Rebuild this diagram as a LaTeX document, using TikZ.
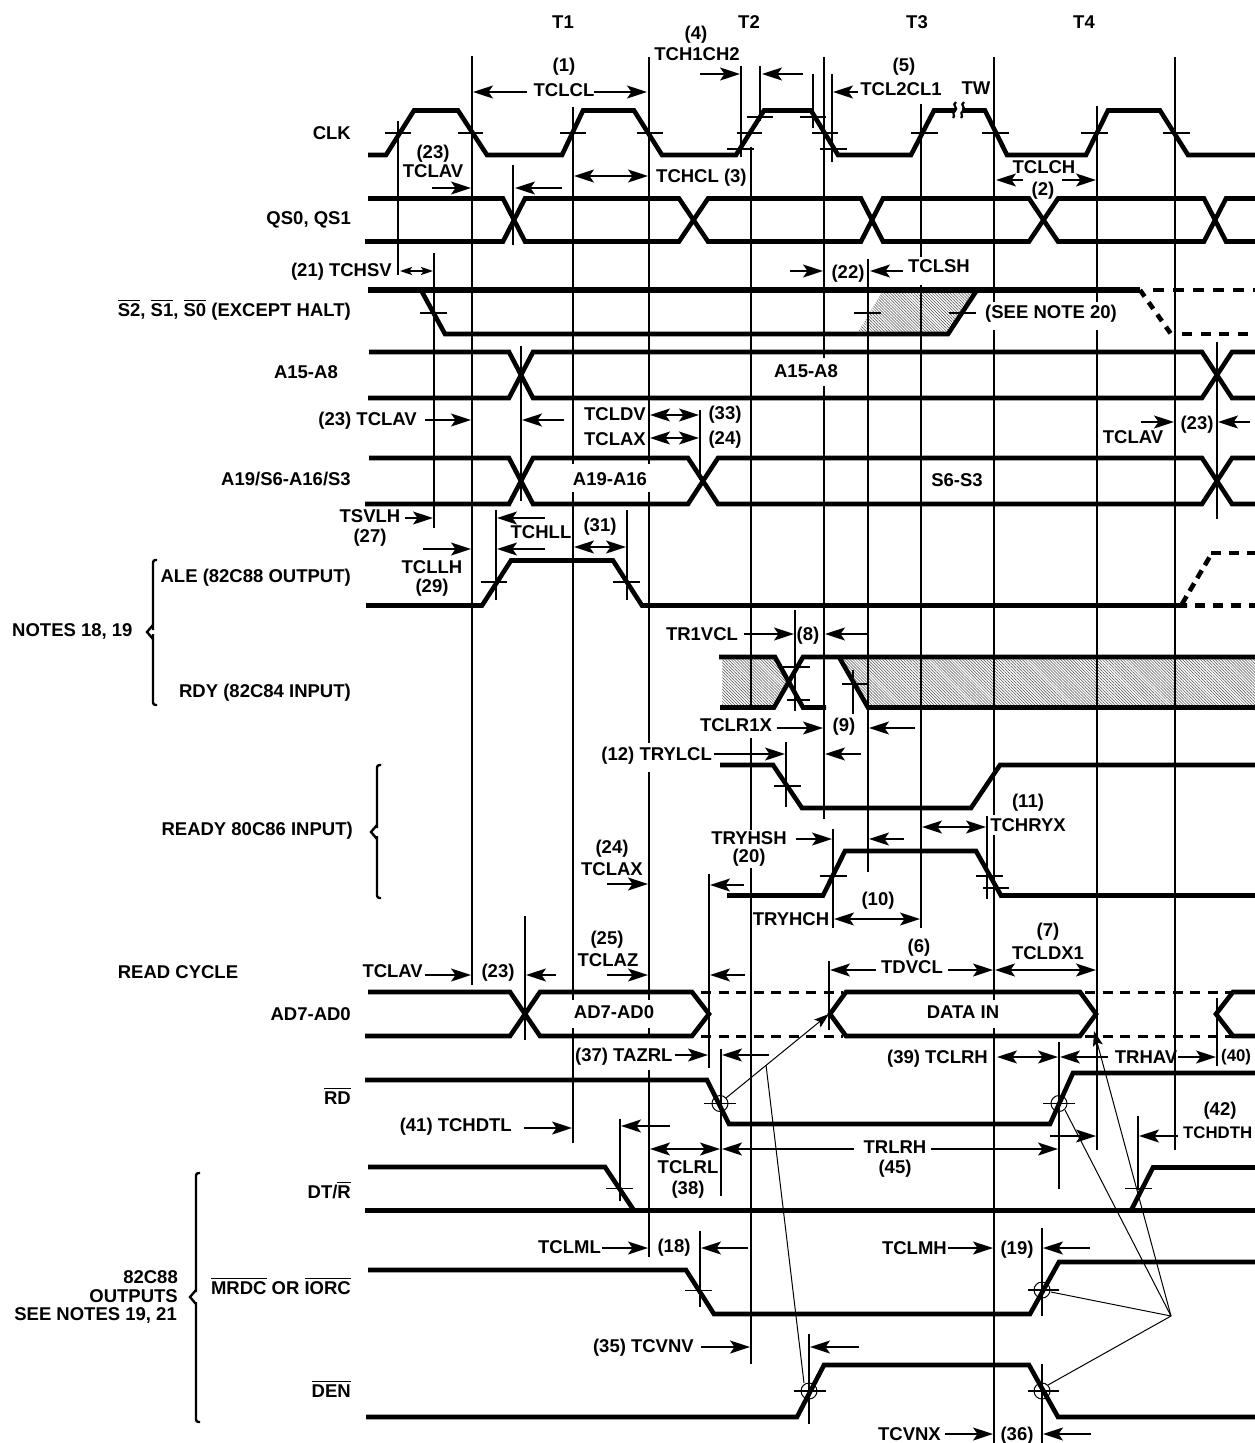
\documentclass[tikz,border=0pt]{standalone}
\usepackage{fontspec}
\setmainfont{Liberation Sans}[BoldFont={Liberation Sans Bold}]
\usetikzlibrary{arrows.meta,patterns.meta}
\newcommand{\ovl}[1]{\leavevmode\setbox0\hbox{#1}\rlap{\raisebox{16pt}{\rule{\wd0}{1pt}}}\box0 }
\tikzset{
  txt/.style={inner sep=0pt,font=\fontsize{18.5}{20}\selectfont\bfseries},
  txtsm/.style={inner sep=0pt,font=\fontsize{16.8}{20}\selectfont\bfseries},
  sig/.style={line width=4.6pt,line join=miter},
  sigd/.style={line width=4.6pt,dash pattern=on 10.5pt off 9.5pt},
  adash/.style={line width=3pt,dash pattern=on 10pt off 7.5pt},
  vl/.style={line width=1.8pt},
  tk/.style={line width=1.8pt},
  hd/.style={-{Stealth[length=20pt,width=13pt,inset=4.5pt]},line width=1.7pt},
  hdb/.style={{Stealth[length=20pt,width=13pt,inset=4.5pt]}-{Stealth[length=20pt,width=13pt,inset=4.5pt]},line width=1.7pt},
  hds/.style={{Stealth[length=12pt,width=8pt,inset=2.5pt]}-{Stealth[length=12pt,width=8pt,inset=2.5pt]},line width=1.7pt},
  leader/.style={line width=1pt},
  leadh/.style={line width=1pt,-{Stealth[length=15pt,width=10pt,inset=3pt]}},
  hatch/.style={pattern={Lines[angle=-45,distance=2.1pt,line width=.5pt]},pattern color=black!70},
  br/.style={line width=2.4pt,rounded corners=2.5pt},
}
\newcommand{\txc}[3]{\node[txt,anchor=base] at (#1,{#2+6.6}) {#3};}
\newcommand{\txr}[3]{\node[txt,anchor=base east] at (#1,{#2+6.6}) {#3};}
\newcommand{\txl}[3]{\node[txt,anchor=base west] at (#1,{#2+6.6}) {#3};}
\newcommand{\hk}[3]{\draw[tk] (#1,#3) -- (#2,#3);}
\begin{document}
\begin{tikzpicture}[x=1pt,y=-1pt]
\useasboundingbox (0,0) rectangle (1255,1443);
\fill[white] (0,0) rectangle (1255,1443);
% hatching
\fill[hatch] (857,334) -- (882,292) -- (977,292) -- (948,334) -- cycle;
\fill[hatch] (722,657) -- (775,657) -- (789,682) -- (774,707.5) -- (722,707.5) -- cycle;
\fill[hatch] (839,657) -- (1255,657) -- (1255,707.5) -- (868,707.5) -- cycle;
% long vertical lines
\draw[vl] (398,121) -- (398,275);
\draw[vl] (472,56) -- (472,985);
\draw[vl] (573,107) -- (573,464) (573,492) -- (573,1000) (573,1028) -- (573,1143);
\draw[vl] (649,57) -- (649,464) (649,492) -- (649,743) (649,772) -- (649,1000) (649,1028) -- (649,1035) (649,1070) -- (649,1257);
\draw[vl] (751,147) -- (751,710) (751,738) -- (751,830) (751,868) -- (751,1364);
\draw[vl] (824,57) -- (824,358) (824,386) -- (824,819);
\draw[vl] (921,104) -- (921,257) (921,285) -- (921,928);
\draw[vl] (994,57) -- (994,302) (994,330) -- (994,815) (994,835) -- (994,1000) (994,1028) -- (994,1443);
\draw[vl] (1097,106) -- (1097,302) (1097,330) -- (1097,1150);
\draw[vl] (1175,57) -- (1175,1150);
\draw[vl] (868,259) -- (868,872);
\draw[vl] (434,253) -- (434,528);
% short ticks
\draw[vl] (741,66) -- (741,157);
\draw[vl] (760,66) -- (760,121);
\draw[vl] (813,74) -- (813,128);
\draw[vl] (832,74) -- (832,162);
\draw[vl] (513,165) -- (513,245);
\draw[vl] (521,346) -- (521,501);
\draw[vl] (496,510) -- (496,600);
\draw[vl] (627,510) -- (627,600);
\draw[vl] (700,410) -- (700,480);
\draw[vl] (795,610) -- (795,711);
\draw[vl] (853,670) -- (853,714);
\draw[vl] (786,742) -- (786,807);
\draw[vl] (833,829) -- (833,928);
\draw[vl] (987,816) -- (987,899);
\draw[vl] (709,874) -- (709,1068);
\draw[vl] (721,1049) -- (721,1196);
\draw[vl] (829,961) -- (829,1030);
\draw[vl] (525,916) -- (525,1040);
\draw[vl] (620,1119) -- (620,1201);
\draw[vl] (1059,1042) -- (1059,1189);
\draw[vl] (1138,1116) -- (1138,1190);
\draw[vl] (1217,998) -- (1217,1066);
\draw[vl] (700,1231) -- (700,1307);
\draw[vl] (1042,1228) -- (1042,1316);
\draw[vl] (809,1334) -- (809,1424);
\draw[vl] (1042,1364) -- (1042,1443);
\draw[vl] (1217,342) -- (1217,519);
% CLK
\draw[sig] (368,155) -- (386,155) -- (414,110.5) -- (458,110.5) -- (487,155) -- (562,155) -- (583,110.5) -- (634,110.5) -- (662,155) -- (736,155) -- (764,110.5) -- (811,110.5) -- (838,155) -- (911,155) -- (934,110.5) -- (985,110.5) -- (1007,155) -- (1086,155) -- (1108,110.5) -- (1160,110.5) -- (1188,155) -- (1255,155);
\fill[white] (955,106) rectangle (962,115);
\draw[line width=2.2pt] (956,102) .. controls (951,105) and (959,108) .. (955,111) .. controls (951,113) and (956,116) .. (953,118);
\draw[line width=2.2pt] (964,102) .. controls (959,105) and (967,108) .. (963,111) .. controls (959,113) and (964,116) .. (961,118);
\hk{385}{411}{133}\hk{458}{483}{133}\hk{560}{586}{133}\hk{637}{663}{133}\hk{737}{762}{133}
\hk{747}{773}{117}\hk{800}{826}{117}\hk{812}{838}{133}\hk{727}{754}{149}\hk{820}{847}{149}
\hk{911}{938}{133}\hk{982}{1009}{133}\hk{1081}{1108}{133}\hk{1163}{1190}{133}
% QS
\draw[sig] (368,198.5) -- (503,198.5) -- (525,241.5) -- (679,241.5) -- (708,198.5) -- (861,198.5) -- (883,241.5) -- (1029,241.5) -- (1058,198.5) -- (1204,198.5) -- (1226,241.5) -- (1255,241.5);
\draw[sig] (365,241.5) -- (503,241.5) -- (525,198.5) -- (679,198.5) -- (708,241.5) -- (861,241.5) -- (883,198.5) -- (1029,198.5) -- (1058,241.5) -- (1204,241.5) -- (1226,198.5) -- (1255,198.5);
% S2 S1 S0
\draw[line width=5.2pt] (368,290) -- (1140,290);
\draw[sigd] (1153,290) -- (1255,290);
\draw[sig] (421,290) -- (445,334) -- (948,334) -- (977,290);
\draw[line width=4.6pt,dash pattern=on 8pt off 7pt] (1140,290) -- (1171,334);
\draw[line width=4.6pt,dash pattern=on 10pt off 8.5pt] (1182,334) -- (1255,334);
\hk{420}{447}{313}\hk{854}{881}{313}\hk{949}{976}{313}
% A15-A8
\draw[sig] (369,352) -- (509,352) -- (533,398) -- (1202,398) -- (1232,352) -- (1255,352);
\draw[sig] (368,398) -- (509,398) -- (533,352) -- (1202,352) -- (1232,398) -- (1255,398);
% A19
\draw[sig] (369,458) -- (509,458) -- (533,504) -- (688,504) -- (718,458) -- (1202,458) -- (1232,504) -- (1255,504);
\draw[sig] (365,504) -- (509,504) -- (533,458) -- (688,458) -- (718,504) -- (1202,504) -- (1232,458) -- (1255,458);
% ALE
\draw[sig] (366,605.5) -- (482,605.5) -- (511,560.5) -- (613,560.5) -- (642,605.5) -- (1187,605.5);
\draw[line width=4.6pt,dash pattern=on 9pt off 6pt] (1182,604) -- (1212,553);
\draw[line width=4.6pt,dash pattern=on 10pt off 8pt] (1211,553) -- (1255,553);
\draw[line width=4.6pt,dash pattern=on 10pt off 8pt] (1195,605.5) -- (1255,605.5);
\hk{481}{507}{582}\hk{613}{640}{582}
% RDY
\draw[sig] (719,657) -- (775,657) -- (803,707.5) -- (826,707.5);
\draw[sig] (720,707.5) -- (774,707.5) -- (803,657) -- (1255,657);
\draw[sig] (839,657) -- (868,707.5) -- (1255,707.5);
\hk{783}{810}{667}\hk{787}{810}{700}\hk{842}{868}{684}
% READY
\draw[sig] (720,765) -- (773,765) -- (802,808) -- (971,808) -- (1000,765) -- (1255,765);
\hk{774}{801}{786}
\draw[sig] (727,895.5) -- (823,895.5) -- (845,851) -- (976,851) -- (1001,895.5) -- (1255,895.5);
\hk{820}{847}{876}\hk{976}{1003}{876}\hk{983}{1009}{888}
% AD
\draw[sig] (368,992) -- (510,992) -- (540,1036) -- (692,1036) -- (709,1014) -- (692,992) -- (540,992) -- (510,1036) -- (365,1036);
\draw[sig] (846,992) -- (1080,992) -- (1096,1014) -- (1080,1036) -- (846,1036) -- (830,1014) -- cycle;
\draw[sig] (1255,992) -- (1233,992) -- (1216,1014) -- (1233,1036) -- (1255,1036);
\draw[adash] (701,992) -- (843,992) (701,1036) -- (843,1036);
\draw[adash] (1085,992) -- (1232,992) (1085,1036) -- (1232,1036);
% RD
\draw[sig] (365,1080) -- (707,1080) -- (729,1124) -- (1050,1124) -- (1073,1073) -- (1255,1073);
\hk{704}{736}{1103.5}\hk{1043}{1075}{1103.5}
\draw[leader] (720,1103.5) circle (8);
\draw[leader] (1059,1103.5) circle (8);
% DT/R
\draw[sig] (368,1167) -- (605,1167) -- (634,1210.5);
\draw[sig] (365,1210.5) -- (1255,1210.5);
\draw[sig] (1131,1210.5) -- (1153,1167.5) -- (1255,1167.5);
\hk{606}{633}{1188.5}\hk{1125}{1152}{1188.5}
% MRDC
\draw[sig] (368,1270) -- (686,1270) -- (714,1314) -- (1030,1314) -- (1059,1262) -- (1255,1262);
\hk{685}{712}{1290.5}\hk{1028}{1059}{1290}
\draw[leader] (1042,1290) circle (8);
% DEN
\draw[sig] (366,1417) -- (797,1417) -- (824,1365) -- (1029,1365) -- (1058,1417) -- (1255,1417);
\hk{794}{826}{1391}\hk{1028}{1059}{1391}
\draw[leader] (809,1391) circle (8);
\draw[leader] (1042,1391) circle (8);
% thin leaders
\draw[leadh] (726,1098) -- (829,1014);
\draw[leader] (766,1065) -- (804,1383);
\draw[leadh] (1171,1316) -- (1094,1031);
\draw[leader] (1171,1316) -- (1065,1110);
\draw[leader] (1171,1316) -- (1051,1292);
\draw[leader] (1171,1316) -- (1048,1385);
% braces
\draw[br] (157,560) -- (153,560) -- (153,630);
\draw[br] (153,634) -- (153,705) -- (157,705);
\draw[line width=2.4pt] (153,625) -- (147,632) -- (153,639);
\draw[br] (381,765) -- (377,765) -- (377,828);
\draw[br] (377,836) -- (377,898) -- (381,898);
\draw[line width=2.4pt] (377,825) -- (371,832) -- (377,839);
\draw[br] (200,1173) -- (196,1173) -- (196,1292);
\draw[br] (196,1302) -- (196,1422) -- (200,1422);
\draw[line width=2.4pt] (196,1290) -- (190,1297) -- (196,1304);
% arrows
\draw[hd] (527,92) -- (473,92);
\draw[hd] (594,92) -- (647,92);
\draw[hd] (700,74) -- (740,74);
\draw[hd] (803,74) -- (762,74);
\draw[hd] (858,92) -- (833,92);
\draw[hd] (432,188) -- (471,188);
\draw[hd] (562,188) -- (515,188);
\draw[hdb] (574,176) -- (648,176);
\draw[hd] (1023,180) -- (996,180);
\draw[hd] (1062,180) -- (1096,180);
\draw[hds] (400,271) -- (433,271);
\draw[hd] (790,271) -- (823,271);
\draw[hd] (903,271) -- (870,271);
\draw[hd] (425,420) -- (471,420);
\draw[hd] (564,420) -- (522,420);
\draw[hdb] (650,415) -- (699,415);
\draw[hdb] (650,438) -- (699,438);
\draw[hd] (1141,422) -- (1174,422);
\draw[hd] (1250,422) -- (1218,422);
\draw[hd] (405,518) -- (433,518);
\draw[hd] (545,518) -- (497,518);
\draw[hd] (423,549) -- (471,549);
\draw[hd] (545,549) -- (497,549);
\draw[hdb] (574,547) -- (626,547);
\draw[hd] (744,634) -- (794,634);
\draw[hd] (868,634) -- (825,634);
\draw[hd] (777,728) -- (823,728);
\draw[hd] (915,728) -- (869,728);
\draw[hd] (714,754) -- (785,754);
\draw[hd] (861,754) -- (825,754);
\draw[hdb] (922,827) -- (986,827);
\draw[hd] (796,839) -- (832,839);
\draw[hd] (904,839) -- (869,839);
\draw[hd] (607,884) -- (648,884);
\draw[hd] (744,885) -- (710,885);
\draw[hdb] (834,919) -- (920,919);
\draw[hd] (607,975) -- (648,975);
\draw[hd] (745,975) -- (710,975);
\draw[hd] (425,975) -- (471,975);
\draw[hd] (556,975) -- (526,975);
\draw[hd] (876,970) -- (830,970);
\draw[hd] (948,970) -- (993,970);
\draw[hdb] (995,970) -- (1096,970);
\draw[hd] (675,1055) -- (708,1055);
\draw[hd] (769,1055) -- (722,1055);
\draw[hdb] (997,1057) -- (1058,1057);
\draw[hd] (1108,1057) -- (1060,1057);
\draw[hd] (1178,1057) -- (1216,1057);
\draw[hd] (524,1128) -- (572,1128);
\draw[hd] (670,1126) -- (621,1126);
\draw[hdb] (650,1149) -- (720,1149);
\draw[hd] (854,1149) -- (722,1149);
\draw[hd] (931,1149) -- (1058,1149);
\draw[hd] (1050,1136) -- (1096,1136);
\draw[hd] (1178,1136) -- (1139,1136);
\draw[hd] (602,1248) -- (648,1248);
\draw[hd] (748,1248) -- (701,1248);
\draw[hd] (948,1248) -- (993,1248);
\draw[hd] (1090,1248) -- (1043,1248);
\draw[hd] (701,1347) -- (750,1347);
\draw[hd] (859,1347) -- (810,1347);
\draw[hd] (945,1434) -- (993,1434);
\draw[hd] (1091,1434) -- (1043,1434);
% texts
\txc{563}{22}{T1}\txc{749}{22}{T2}\txc{917}{22}{T3}\txc{1084}{22}{T4}
\txc{564}{65}{(1)}\txc{564}{90}{TCLCL}
\txc{696}{33}{(4)}\txc{697}{54}{TCH1CH2}
\txc{904}{65}{(5)}\txc{901}{89}{TCL2CL1}\txc{976}{88}{TW}
\txc{433}{152}{(23)}\txc{433}{171}{TCLAV}
\txl{656}{176}{TCHCL (3)}
\txc{1044}{167}{TCLCH}\txc{1043}{189}{(2)}
\txr{392}{270}{(21) TCHSV}
\txc{848}{272}{(22)}\txc{939}{266}{TCLSH}
\txl{985}{312}{(SEE NOTE 20)}
\txc{806}{371}{A15-A8}
\txr{417}{419}{(23) TCLAV}
\txr{646}{414}{TCLDV}\txr{646}{439}{TCLAX}
\txc{725}{413}{(33)}\txc{725}{438}{(24)}
\txc{1197}{423}{(23)}\txc{1133}{437}{TCLAV}
\txc{610}{479}{A19-A16}\txc{957}{480}{S6-S3}
\txc{370}{516}{TSVLH}\txc{370}{536}{(27)}
\txc{541}{532}{TCHLL}\txc{600}{525}{(31)}
\txc{432}{567}{TCLLH}\txc{432}{586}{(29)}
\txc{702}{634}{TR1VCL}\txc{808}{634}{(8)}
\txc{736}{725}{TCLR1X}\txc{844}{725}{(9)}
\txr{712}{754}{(12) TRYLCL}
\txc{1028}{801}{(11)}\txc{1028}{825}{TCHRYX}
\txc{749}{838}{TRYHSH}\txc{749}{856}{(20)}
\txc{612}{847}{(24)}\txc{612}{869}{TCLAX}
\txc{878}{899}{(10)}\txc{791}{919}{TRYHCH}
\txc{607}{938}{(25)}\txc{608}{960}{TCLAZ}
\txc{919}{946}{(6)}\txc{912}{967}{TDVCL}
\txc{1048}{930}{(7)}\txc{1048}{953}{TCLDX1}
\txc{178}{972}{READ CYCLE}
\txr{423}{971}{TCLAV}\txc{498}{971}{(23)}
\txc{614}{1012}{AD7-AD0}\txc{963}{1012}{DATA IN}
\txl{575}{1055}{(37) TAZRL}
\txr{988}{1057}{(39) TCLRH}
\txc{1146}{1057}{TRHAV}
\node[txtsm,anchor=base west] at (1221,1061.5) {(40)};
\txc{1220}{1109}{(42)}
\node[txtsm,anchor=base west] at (1183,1138) {TCHDTH};
\txr{512}{1125}{(41) TCHDTL}
\txc{688}{1167}{TCLRL}\txc{688}{1188}{(38)}
\txc{895}{1147}{TRLRH}\txc{895}{1167}{(45)}
\txr{601}{1247}{TCLML}\txc{674}{1246}{(18)}
\txr{947}{1248}{TCLMH}\txc{1017}{1248}{(19)}
\txr{694}{1346}{(35) TCVNV}
\txr{941}{1434}{TCVNX}\txc{1017}{1434}{(36)}
% left labels
\txr{351}{133}{CLK}
\txr{351}{218}{QS0, QS1}
\txr{351}{310}{\ovl{S2}, \ovl{S1}, \ovl{S0} (EXCEPT HALT)}
\txr{338}{372}{A15-A8}
\txr{351}{479}{A19/S6-A16/S3}
\txr{351}{576}{ALE (82C88 OUTPUT)}
\txr{351}{691}{RDY (82C84 INPUT)}
\txr{353}{829}{READY 80C86 INPUT)}
\txr{351}{1014}{AD7-AD0}
\txr{351}{1098}{\ovl{RD}}
\txr{351}{1192}{DT/\ovl{R}}
\txr{351}{1288}{\ovl{MRDC} OR \ovl{IORC}}
\txr{351}{1391}{\ovl{DEN}}
\txl{12}{630}{NOTES 18, 19}
\txr{178}{1277}{82C88}
\txr{178}{1296}{OUTPUTS}
\txr{177}{1314}{SEE NOTES 19, 21}
\end{tikzpicture}
\end{document}
